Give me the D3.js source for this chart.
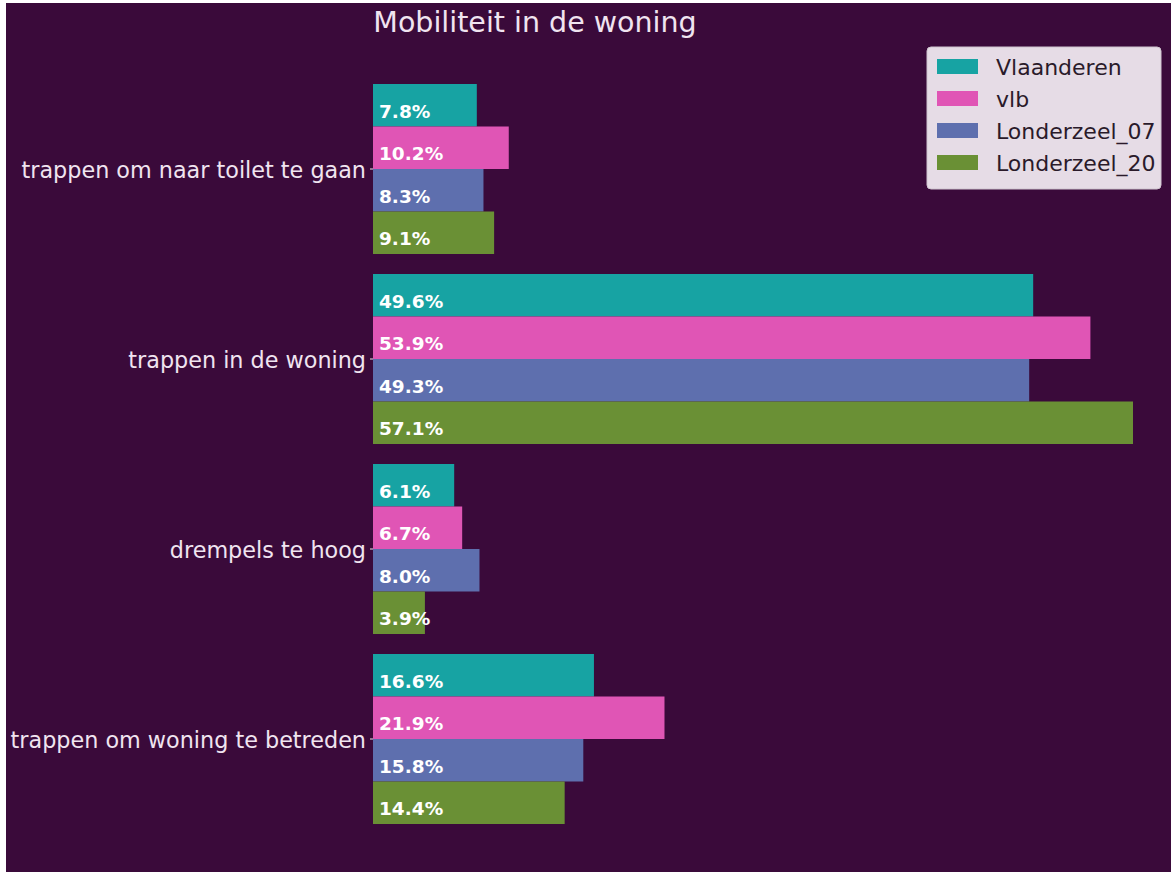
<!DOCTYPE html>
<html>
<head>
<meta charset="utf-8">
<script src="https://cdn.jsdelivr.net/npm/d3@7"></script>
<style>
  body { margin: 0; background: #ffffff; }
  svg { display: block; font-family: "DejaVu Sans", sans-serif; }
</style>
</head>
<body>
<div id="chart"></div>
<script>
// data
const categories = ["trappen om naar toilet te gaan", "trappen in de woning", "drempels te hoog", "trappen om woning te betreden"];
const seriesNames = ["Vlaanderen", "vlb", "Londerzeel_07", "Londerzeel_20"];
const vlaanderen = [7.8, 49.6, 6.1, 16.6];
const vlb = [10.2, 53.9, 6.7, 21.9];
const londerzeel07 = [8.3, 49.3, 8.0, 15.8];
const londerzeel20 = [9.1, 57.1, 3.9, 14.4];
const colors = ["#17a3a3", "#e055b5", "#5e6fae", "#6a9035"];

const seriesValues = [vlaanderen, vlb, londerzeel07, londerzeel20];

const width = 1171;
const height = 872;
const bg = "#3a0a3a";
const textColor = "#f0e4f0";

const svg = d3.select("#chart")
  .append("svg")
  .attr("width", width)
  .attr("height", height);

// achtergrond (witte rand links/boven zoals in de afbeelding)
svg.append("rect")
  .attr("x", 6).attr("y", 3)
  .attr("width", width - 6).attr("height", height - 3)
  .attr("fill", bg);

// schalen
const x = d3.scaleLinear()
  .domain([0, d3.max(londerzeel20) * 1.05])
  .range([373, width]);

const y = d3.scaleBand()
  .domain(categories)
  .range([74, 834])
  .paddingInner(20 / 190)
  .paddingOuter(10 / 190);

const ySub = d3.scaleBand()
  .domain(seriesNames)
  .range([0, y.bandwidth()]);

// titel
svg.append("text")
  .attr("x", 535)
  .attr("y", 32)
  .attr("text-anchor", "middle")
  .style("font-size", "28.5px")
  .attr("fill", textColor)
  .text("Mobiliteit in de woning");

// categorie labels (y-as zonder lijn)
const yAxis = svg.append("g")
  .attr("transform", `translate(${x(0)},0)`)
  .call(d3.axisLeft(y).tickSize(3).tickPadding(4));
yAxis.select(".domain").remove();
yAxis.selectAll(".tick line").attr("stroke", textColor);
yAxis.selectAll(".tick text")
  .attr("fill", textColor)
  .attr("dy", "0.4em")
  .style("font-size", "22.3px")
  .style("font-family", "DejaVu Sans, sans-serif");

// balken
const groups = svg.selectAll("g.group")
  .data(categories)
  .enter()
  .append("g")
  .attr("class", "group")
  .attr("transform", d => `translate(0,${y(d)})`);

const bars = groups.selectAll("g.bar")
  .data((c, ci) => seriesNames.map((s, si) => ({ cat: c, series: s, value: seriesValues[si][ci], i: si })))
  .enter()
  .append("g")
  .attr("class", "bar");

bars.append("rect")
  .attr("x", x(0))
  .attr("y", d => ySub(d.series))
  .attr("width", d => x(d.value) - x(0))
  .attr("height", ySub.bandwidth())
  .attr("fill", d => colors[d.i]);

bars.append("text")
  .attr("x", x(0) + 6)
  .attr("y", d => ySub(d.series) + ySub.bandwidth() / 2 + 6)
  .attr("dy", "0.36em")
  .attr("fill", "#ffffff")
  .style("font-size", "18.5px")
  .style("font-weight", "bold")
  .text(d => d.value.toFixed(1) + "%");

// legenda
const legend = svg.append("g")
  .attr("transform", "translate(927,47)");

legend.append("rect")
  .attr("width", 234)
  .attr("height", 142)
  .attr("rx", 4)
  .attr("fill", "#e6dce6")
  .attr("stroke", "#cfc4cf");

const items = legend.selectAll(".legend")
  .data(seriesNames)
  .enter()
  .append("g")
  .attr("class", "legend")
  .attr("transform", (d, i) => `translate(10,${20 + i * 32})`);

items.append("rect")
  .attr("x", 0)
  .attr("y", -8)
  .attr("width", 41)
  .attr("height", 15)
  .style("fill", (d, i) => colors[i]);

items.append("text")
  .attr("x", 59)
  .attr("y", 0)
  .attr("dy", "0.35em")
  .attr("fill", "#2a1a2a")
  .style("font-size", "22px")
  .text(d => d);
</script>
</body>
</html>
